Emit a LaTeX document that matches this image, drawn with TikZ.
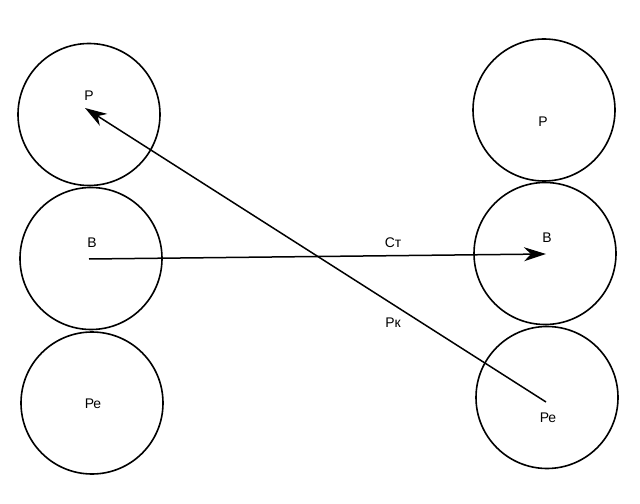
\documentclass[tikz,border=0pt]{standalone}
\usepackage{fontspec}
\setmainfont{Liberation Sans}
\usetikzlibrary{arrows.meta}
\begin{document}
\begin{tikzpicture}[x=1bp,y=-1bp,
  ego/.style={circle,draw=black,line width=1.6bp,minimum size=142bp,inner sep=0pt},
  lbl/.style={inner sep=0pt,font=\fontsize{14}{16}\selectfont},
  conn/.style={line width=1.5bp,-{Stealth[length=22bp,width=14bp,inset=7bp]}}]
\useasboundingbox[fill=white] (0,0) rectangle (640,504);
% left circles
\node[ego] (lP) at (89,114.5) {};
\node[ego] (lB) at (91,258.5) {};
\node[ego] (lR) at (92,403) {};
% right circles
\node[ego] (rP) at (544,110) {};
\node[ego] (rB) at (545,253.5) {};
\node[ego] (rR) at (547,397.5) {};
% labels
\node[lbl] (tlP) at (89,96) {Р};
\node[lbl] (tlB) at (92,243) {В};
\node[lbl] (tlR) at (93,404) {Ре};
\node[lbl] (trP) at (543,122) {Р};
\node[lbl] (trB) at (547,238) {В};
\node[lbl] (trR) at (548,418) {Ре};
% connector end points
\coordinate (aS) at (89,259);
\coordinate (aE) at (546,254);
\coordinate (bS) at (546,402);
\coordinate (bE) at (85,108);
\draw[conn] (aS) -- (aE);
\draw[conn] (bS) -- (bE);
\node[lbl] (st) at (393,243) {Ст};
\node[lbl] (rk) at (393,323) {Рк};
\end{tikzpicture}
\end{document}
